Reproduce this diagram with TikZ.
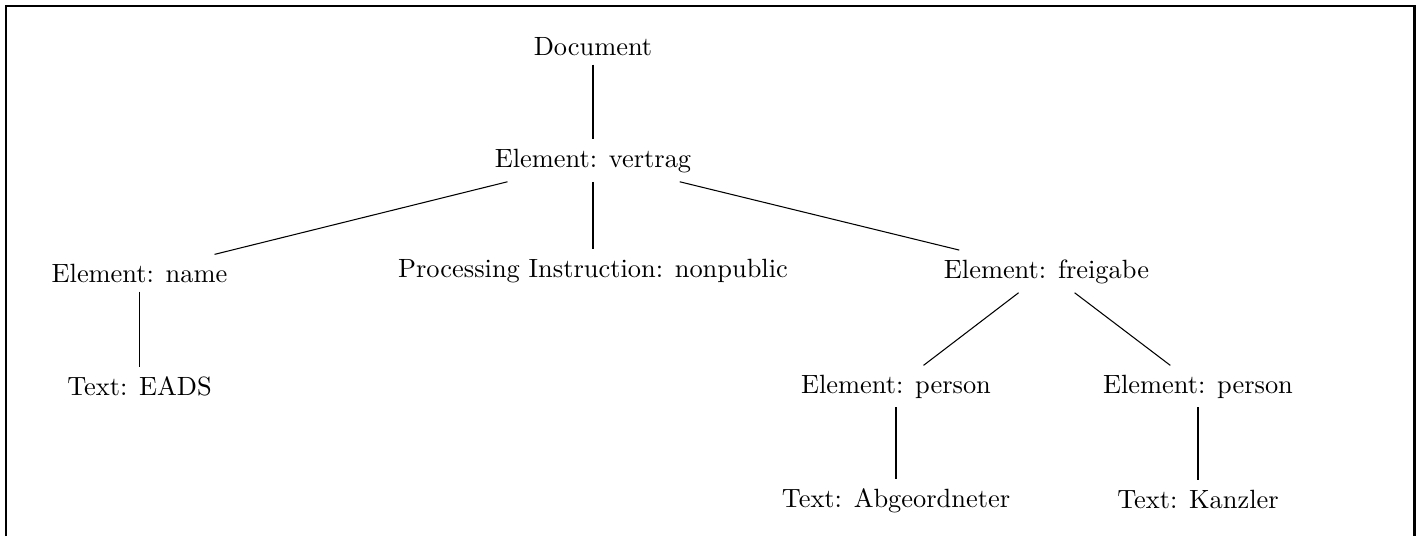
\documentclass[tikz,border=0pt]{standalone}
\begin{document}
\begin{tikzpicture}[x=0.3788pt,y=-0.3788pt,
  tn/.style={anchor=base,inner sep=3.33pt},
  edge/.style={line width=0.4pt},
  frame/.style={line width=0.8pt}]
\useasboundingbox (0,0) rectangle (1422,536);
\draw[frame] (6,536) -- (6,6) -- (1414.5,6) -- (1414.5,536);
\node[tn] (doc) at (593,55) {Document};
\node[tn] (vertrag) at (593,167) {Element: vertrag};
\node[tn] (name) at (139.5,282) {Element: name};
\node[tn] (pi) at (593,277) {Processing Instruction: nonpublic};
\node[tn] (freigabe) at (1046.5,278) {Element: freigabe};
\node[tn] (eads) at (139.5,395) {Text: EADS};
\node[tn] (p1) at (896,393) {Element: person};
\node[tn] (p2) at (1198,393) {Element: person};
\node[tn] (abg) at (896,507) {Text: Abgeordneter};
\node[tn] (kanzler) at (1198,508) {Text: Kanzler};
\draw[edge] (doc) -- (vertrag);
\draw[edge] (vertrag) -- (name);
\draw[edge] (vertrag) -- (pi);
\draw[edge] (vertrag) -- (freigabe);
\draw[edge] (name) -- (eads);
\draw[edge] (freigabe) -- (p1);
\draw[edge] (freigabe) -- (p2);
\draw[edge] (p1) -- (abg);
\draw[edge] (p2) -- (kanzler);
\end{tikzpicture}
\end{document}
